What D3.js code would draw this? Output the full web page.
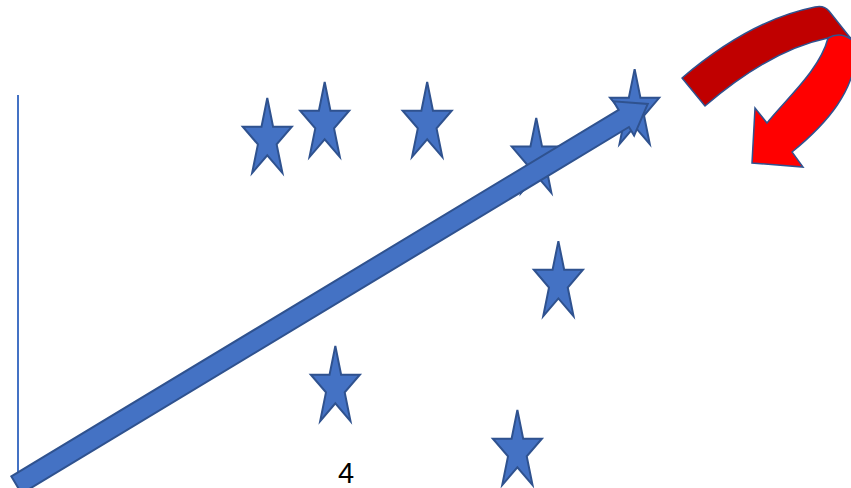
<!DOCTYPE html>
<html>
<head>
<meta charset="utf-8">
<script src="https://cdn.jsdelivr.net/npm/d3@7"></script>
<style>
  html, body { margin: 0; padding: 0; background: #ffffff; }
  svg { display: block; }
</style>
</head>
<body>
<div id="chart"></div>
<script>
// ---- data ----
const starX = [3.04, 3.74, 4.99, 6.32, 6.59, 3.87, 6.09, 7.52];
const starY = [8.86, 9.27, 9.27, 8.35, 5.19, 2.50, 0.86, 9.60];
const trendFrom = [0, 0];
const trendTo = [7.68, 9.77];
const tickValues = [4];
const tickLabels = ["4"];

const W = 851, H = 488;
const svg = d3.select("#chart").append("svg")
  .attr("width", W).attr("height", H)
  .attr("viewBox", `0 0 ${W} ${H}`);
svg.append("rect").attr("width", W).attr("height", H).attr("fill", "#ffffff");

const x = d3.scaleLinear().domain([0, 10]).range([18, 838]);
const y = d3.scaleLinear().domain([0, 10]).range([485, 95]);

// y axis line
svg.append("line")
  .attr("x1", x(0)).attr("x2", x(0))
  .attr("y1", y(10)).attr("y2", y(0))
  .attr("stroke", "#4472C4").attr("stroke-width", 2);

// x tick label
svg.selectAll("text.tick").data(tickValues).join("text")
  .attr("class", "tick")
  .attr("x", d => x(d)).attr("y", 483)
  .attr("text-anchor", "middle")
  .attr("font-family", "'Liberation Sans', Arial, sans-serif")
  .attr("font-size", 29)
  .attr("fill", "#000")
  .text((d, i) => tickLabels[i]);

// star shape
const sx = 25.8, sy = 41.5, inner = 0.382;
function starPath(cx, cy) {
  const pts = [];
  for (let k = 0; k < 10; k++) {
    const a = (-90 + 36 * k) * Math.PI / 180;
    const r = k % 2 === 0 ? 1 : inner;
    pts.push([cx + r * Math.cos(a) * sx, cy + r * Math.sin(a) * sy]);
  }
  return "M" + pts.map(p => p[0].toFixed(2) + "," + p[1].toFixed(2)).join("L") + "Z";
}

const stars = starX.map((v, i) => ({ x: v, y: starY[i] }));
svg.selectAll("path.star").data(stars).join("path")
  .attr("class", "star")
  .attr("d", d => starPath(x(d.x), y(d.y)))
  .attr("fill", "#4472C4")
  .attr("stroke", "#2F528F")
  .attr("stroke-width", 2)
  .attr("stroke-linejoin", "miter");

// blue trend arrow
(function () {
  const p0 = [x(trendFrom[0]) - 1.5, y(trendFrom[1])];
  const p1 = [x(trendTo[0]), y(trendTo[1])];
  const dx = p1[0] - p0[0], dy = p1[1] - p0[1];
  const L = Math.hypot(dx, dy);
  const u = [dx / L, dy / L], n = [-u[1], u[0]];
  const hw = 10, headL = 28, headW = 20;
  const b = [p1[0] - u[0] * headL, p1[1] - u[1] * headL];
  const P = (base, s) => [base[0] + n[0] * s, base[1] + n[1] * s];
  const pts = [P(p0, hw), P(b, hw), P(b, headW), p1, P(b, -headW), P(b, -hw), P(p0, -hw)];
  svg.append("path")
    .attr("d", "M" + pts.map(p => p.join(",")).join("L") + "Z")
    .attr("fill", "#4472C4")
    .attr("stroke", "#2F528F")
    .attr("stroke-width", 2)
    .attr("stroke-linejoin", "miter");
})();

// red curved arrow (decoration)
const g = svg.append("g");
g.append("path")
  .attr("d", "M856,45 Q853,36 840,34 Q832,34 828,38 C820,70 785,100 767,123 L755,108 L752,163 L803,167 L792,152 C825,125 858,90 856,45 Z")
  .attr("fill", "#FF0000")
  .attr("stroke", "#2F528F").attr("stroke-width", 1.5).attr("stroke-linejoin", "miter");
g.append("path")
  .attr("d", "M682,78 Q750,20 815,7 Q824,5 829,11 L852,40 Q840,31 828,38 Q770,50 705,106 Z")
  .attr("fill", "#C00000")
  .attr("stroke", "#2F528F").attr("stroke-width", 1.5).attr("stroke-linejoin", "round");
</script>
</body>
</html>
